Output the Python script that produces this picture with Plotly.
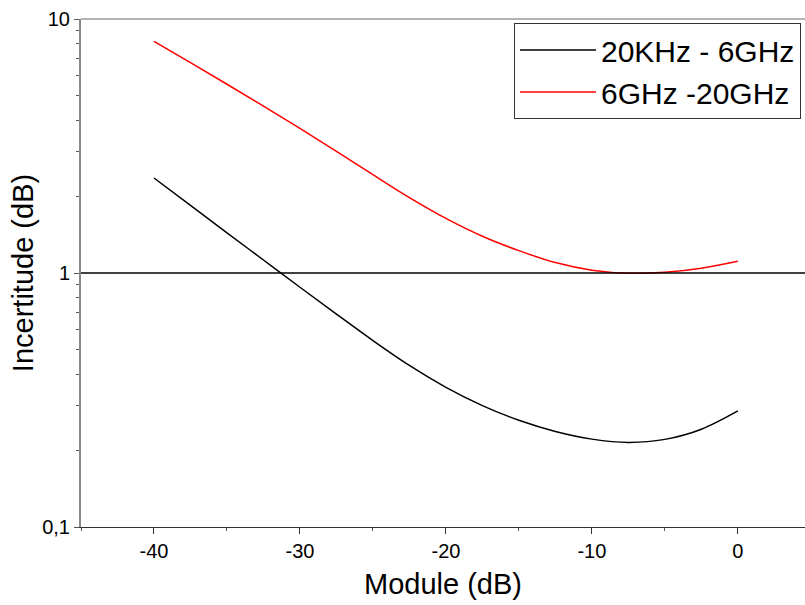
import plotly.graph_objects as go

module_db = [-40, -37.5, -35, -32.5, -30, -27.5, -25, -22.5, -20, -17.5, -15, -12.5, -10, -7.5, -5, -2.5, 0]
low_band = [2.366, 1.845, 1.439, 1.125, 0.879, 0.689, 0.542, 0.4325, 0.3548, 0.3006, 0.2630, 0.2377,
            0.2218, 0.2153, 0.2213, 0.2427, 0.2864]
high_band = [8.166, 6.730, 5.534, 4.539, 3.707, 3.013, 2.438, 1.982, 1.641, 1.396, 1.225, 1.099,
             1.026, 0.998, 1.007, 1.045, 1.112]
names = ["20KHz - 6GHz", "6GHz -20GHz"]
y_tickvals = [0.1, 1, 10]
y_ticktext = ["0,1", "1", "10"]
x_tickvals = [-40, -30, -20, -10, 0]
x_ticktext = ["-40", "-30", "-20", "-10", "0"]

fig = go.Figure()
fig.add_trace(go.Scatter(x=module_db, y=low_band, mode="lines", name=names[0],
                         line=dict(color="black", width=1.5, shape="spline", smoothing=1)))
fig.add_trace(go.Scatter(x=module_db, y=high_band, mode="lines", name=names[1],
                         line=dict(color="#ff0000", width=1.5, shape="spline", smoothing=1)))

# reference line at 1 dB
fig.add_shape(type="line", xref="paper", x0=0, x1=1, yref="y", y0=1, y1=1,
              line=dict(color="black", width=1.3))
# top frame line
fig.add_shape(type="line", xref="paper", x0=0, x1=1, yref="paper", y0=1, y1=1,
              line=dict(color="#9a9a9a", width=1.5))

font = "Liberation Sans, Arial, sans-serif"
fig.update_layout(
    width=805, height=605,
    margin=dict(l=81, r=0, t=19, b=78),
    plot_bgcolor="white", paper_bgcolor="white",
    font=dict(family=font, color="black"),
    showlegend=True,
    legend=dict(x=0.598, y=0.992, xanchor="left", yanchor="top",
                bordercolor="#333333", borderwidth=1, bgcolor="white",
                font=dict(size=30, family=font), tracegroupgap=0, itemwidth=76),
    xaxis=dict(range=[-45, 4.6], tickvals=x_tickvals, ticktext=x_ticktext, ticks="outside",
               ticklen=6, tickcolor="#333333", linecolor="#333333", linewidth=1.3, showline=True,
               showgrid=False, zeroline=False, mirror=False, automargin=False,
               tickfont=dict(size=20),
               minor=dict(dtick=5, tick0=-45, ticks="outside", ticklen=3, tickcolor="#555555"),
               title=dict(text="Module (dB)", font=dict(size=29), standoff=12)),
    yaxis=dict(type="log", range=[-1, 1], tickvals=y_tickvals, ticktext=y_ticktext,
               ticks="outside", ticklen=5, tickcolor="#555555", linecolor="#888888",
               linewidth=2, showline=True, showgrid=False, zeroline=False, automargin=False,
               tickfont=dict(size=20),
               minor=dict(tickvals=[0.2, 0.3, 0.4, 0.5, 0.6, 0.7, 0.8, 0.9,
                                    2, 3, 4, 5, 6, 7, 8, 9],
                          ticks="outside", ticklen=3, tickcolor="#555555"),
               title=dict(text="Incertitude (dB)", font=dict(size=29), standoff=0)),
)

fig.write_html("out.html")
